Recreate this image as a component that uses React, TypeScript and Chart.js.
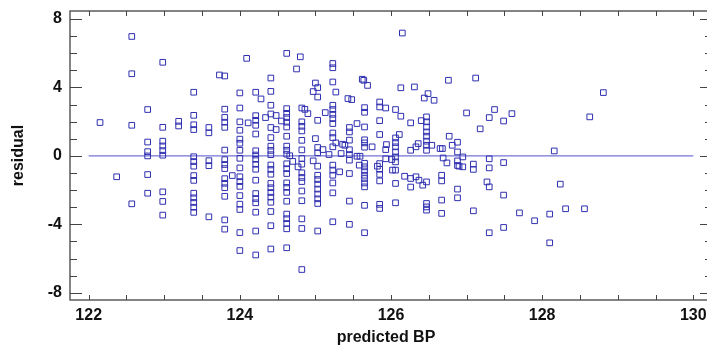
import { useEffect, useRef } from "react";
import { Chart, registerables } from "chart.js";

Chart.register(...registerables);

// predicted BP levels (x) and the residuals observed at each level (y)
const bpLevels: number[] = [
  122.15, 122.37, 122.57, 122.78, 122.98, 123.19, 123.39, 123.59, 123.73, 123.8,
  123.9, 124.0, 124.09, 124.11, 124.21, 124.28, 124.34, 124.41, 124.48, 124.55,
  124.62, 124.66, 124.7, 124.75, 124.77, 124.8, 124.82, 124.86, 124.9, 124.97,
  125.0, 125.03, 125.1, 125.13, 125.18, 125.23, 125.27, 125.32, 125.34, 125.36,
  125.39, 125.43, 125.45, 125.48, 125.55, 125.58, 125.59, 125.62, 125.64, 125.65,
  125.69, 125.75, 125.82, 125.85, 125.93, 125.94, 126.01, 126.02, 126.06, 126.11,
  126.13, 126.15, 126.18, 126.26, 126.31, 126.33, 126.36, 126.37, 126.4, 126.42,
  126.44, 126.47, 126.49, 126.54, 126.57, 126.65, 126.67, 126.68, 126.69, 126.74,
  126.76, 126.77, 126.81, 126.88, 126.9, 126.95, 127.0, 127.09, 127.12, 127.18,
  127.27, 127.3, 127.37, 127.49, 127.6, 127.7, 127.9, 128.1, 128.16, 128.24,
  128.31, 128.56, 128.63, 128.81,
];

const residualsAtLevel: number[][] = [
  [1.95], // 122.15
  [-1.22], // 122.37
  [6.98, 4.8, 1.79, -2.8], // 122.57
  [2.71, 0.81, 0.25, 0.0, -1.09, -2.18], // 122.78
  [5.47, 1.67, 0.86, 0.58, 0.31, 0.04, -2.1, -2.66, -3.46], // 122.98
  [2.02, 1.75], // 123.19
  [3.72, 2.37, 1.82, 1.54, -0.05, -0.33, -0.6, -1.15, -1.43, -2.18, -2.45, -2.72, -3.0, -3.3], // 123.39
  [1.66, 1.35, -0.28, -0.57, -3.56], // 123.59
  [4.73], // 123.73
  [4.67, 2.73, 2.25, 1.97, 1.67, 0.34, -0.22, -0.5, -0.74, -1.33, -1.6, -1.86, -2.36, -3.74, -4.28], // 123.80
  [-1.15], // 123.90
  [3.68, 2.8, 1.99, 1.5, 0.98, 0.74, 0.33, -0.14, -0.7, -1.22, -1.5, -1.78, -2.32, -2.82, -3.13, -4.48, -5.53], // 124.00
  [5.7], // 124.09
  [1.93], // 124.11
  [3.72, 2.35, 2.08, 1.79, 1.28, 0.3, 0.05, -0.2, -0.49, -0.78, -1.42, -2.2, -2.49, -2.74, -3.29, -4.39, -5.79], // 124.21
  [3.33], // 124.28
  [2.24], // 124.34
  [4.55, 3.77, 2.96, 2.45, 1.66, 1.07, 0.57, 0.32, 0.07, -0.53, -0.79, -1.07, -1.61, -1.86, -2.14, -2.41, -2.71, -3.25, -4.08, -5.44], // 124.41
  [2.36, 1.54], // 124.48
  [2.04], // 124.55
  [5.99, 2.76, 2.49, 2.24, 1.97, 1.69, 1.15, 0.57, 0.33, 0.1, -0.46, -0.75, -1.03, -1.58, -1.84, -2.13, -2.65, -3.4, -3.67, -3.95, -4.26, -5.37], // 124.62
  [0.01], // 124.66
  [-0.32], // 124.70
  [5.08], // 124.75
  [-0.64], // 124.77
  [5.79], // 124.80
  [2.8, 1.99, 1.73, 1.46, 0.91, 0.35, -0.15, -0.48, -0.99, -1.26, -1.5, -2.05, -2.62, -3.68, -4.24, -6.64], // 124.82
  [2.72], // 124.86
  [2.47], // 124.90
  [3.76, -0.29], // 124.97
  [4.26, 1.01], // 125.00
  [3.99, 3.44, 2.08, 0.49, 0.18, -0.6, -1.13, -1.38, -1.65, -1.94, -2.23, -2.51, -2.78, -4.39], // 125.03
  [0.37], // 125.10
  [2.53], // 125.13
  [0.08], // 125.18
  [5.4, 5.15, 4.32, 2.96, 2.71, 2.43, 2.18, 1.89, 1.34, 1.07, 0.53, -0.54, -0.83, -1.13, -1.58, -2.16, -3.85], // 125.23
  [3.73, 0.76], // 125.27
  [-0.93], // 125.32
  [0.14], // 125.34
  [0.68], // 125.36
  [0.62], // 125.39
  [3.35], // 125.43
  [1.66, 1.4, 0.92, 0.36, 0.08, -0.25, -1.03, -2.64, -4.0], // 125.45
  [3.29], // 125.48
  [1.89, -0.02], // 125.55
  [-0.54], // 125.58
  [-0.02], // 125.59
  [4.48], // 125.62
  [4.42], // 125.64
  [2.82, 2.55, 1.69, 0.94, 0.76, 0.51, -0.43, -0.64, -0.88, -1.13, -1.32, -1.58, -1.81, -2.89, -4.49], // 125.65
  [4.12], // 125.69
  [0.53], // 125.75
  [-0.6], // 125.82
  [3.15, 2.86, 2.06, 1.25, -0.45, -0.78, -1.08, -1.46, -2.83, -3.07], // 125.85
  [2.8, 0.37, -0.17], // 125.93
  [0.66], // 125.94
  [-0.21], // 126.01
  [-0.83], // 126.02
  [2.71, 1.05, 0.78, 0.53, 0.23, -0.06, -0.35, -0.83, -1.61, -2.74], // 126.06
  [1.25], // 126.11
  [3.98, 2.32], // 126.13
  [7.18], // 126.15
  [-1.19], // 126.18
  [1.93, 0.33, -1.32, -1.82], // 126.26
  [4.03], // 126.31
  [0.53, -1.22], // 126.33
  [0.72], // 126.36
  [-1.42], // 126.37
  [2.06], // 126.40
  [-1.71], // 126.42
  [3.38], // 126.44
  [2.28, 1.99, 1.69, 1.4, 1.15, 0.86, 0.62, 0.33, -1.52, -2.78, -2.98, -3.17], // 126.47
  [3.64], // 126.49
  [0.62], // 126.54
  [3.25], // 126.57
  [0.43], // 126.65
  [-1.13, -1.46, -2.58, -3.36], // 126.67
  [0.43], // 126.68
  [-0.12], // 126.69
  [-0.41], // 126.74
  [4.42], // 126.76
  [1.15], // 126.77
  [0.62], // 126.81
  [0.8, 0.23, -0.29, -0.56, -1.94, -2.45], // 126.88
  [-0.6], // 126.90
  [-0.06, -0.64], // 126.95
  [2.51], // 127.00
  [-0.48, -0.79, -3.21], // 127.09
  [4.55], // 127.12
  [1.58], // 127.18
  [-1.52], // 127.27
  [2.24, -0.17, -0.7, -1.81, -4.49], // 127.30
  [2.71], // 127.37
  [2.04, -0.39, -2.29, -4.18], // 127.49
  [2.47], // 127.60
  [-3.33], // 127.70
  [-3.79], // 127.90
  [-3.4, -5.08], // 128.10
  [0.29], // 128.16
  [-1.65], // 128.24
  [-3.09], // 128.31
  [-3.09], // 128.56
  [2.28], // 128.63
  [3.7], // 128.81
];

const xTickValues = [122, 124, 126, 128, 130];
const yTickValues = [-8, -4, 0, 4, 8];
const xMinorStep = 0.5;
const yMinorStep = 1;
const zeroLineX = [122, 130];
const xTitle = "predicted BP";
const yTitle = "residual";

// where the first/last labelled ticks sit in the picture (used to fit the axis ranges)
const X_FIRST_PX = 88.7;
const X_LAST_PX = 693.3;
const Y_TOP_PX = 19; // value 8
const Y_BOTTOM_PX = 292.8; // value -8
const FRAME_RIGHT_PX = 712; // right frame, just outside the window

const FONT = "'Liberation Sans', Arial, sans-serif";

export default function App() {
  const ref = useRef<HTMLCanvasElement>(null);

  useEffect(() => {
    document.body.style.margin = "0";
    const points: { x: number; y: number }[] = [];
    bpLevels.forEach((x, i) => {
      (residualsAtLevel[i] || []).forEach((y) => points.push({ x, y }));
    });

    const xLo = xTickValues[0];
    const xHi = xTickValues[xTickValues.length - 1];
    const yLo = yTickValues[0];
    const yHi = yTickValues[yTickValues.length - 1];
    const xPerUnit = (X_LAST_PX - X_FIRST_PX) / (xHi - xLo);
    const yPerUnit = (Y_BOTTOM_PX - Y_TOP_PX) / (yHi - yLo);

    const framePlugin = {
      id: "frame",
      beforeDatasetsDraw(chart: any) {
        const { ctx, chartArea, scales } = chart;
        const { left, top, bottom } = chartArea;
        const xs = scales.x;
        const ys = scales.y;
        const right = FRAME_RIGHT_PX;
        ctx.save();
        ctx.strokeStyle = "#5c5c5c";
        ctx.lineWidth = 1.5;
        ctx.beginPath();
        ctx.moveTo(left, top);
        ctx.lineTo(right, top);
        ctx.lineTo(right, bottom);
        ctx.lineTo(left, bottom);
        ctx.closePath();
        ctx.stroke();
        ctx.lineWidth = 1;
        ctx.strokeStyle = "#444";
        for (let v = xLo; v <= xHi + 1e-9; v += xMinorStep) {
          const px = Math.round(xs.getPixelForValue(v)) + 0.5;
          ctx.beginPath();
          ctx.moveTo(px, bottom);
          ctx.lineTo(px, bottom - 5);
          ctx.moveTo(px, top);
          ctx.lineTo(px, top + 5);
          ctx.stroke();
        }
        for (let v = yLo; v <= yHi + 1e-9; v += yMinorStep) {
          const py = Math.round(ys.getPixelForValue(v)) + 0.5;
          const len = yTickValues.includes(v) ? 12 : 7;
          ctx.beginPath();
          ctx.moveTo(left, py);
          ctx.lineTo(left + len, py);
          ctx.moveTo(right, py);
          ctx.lineTo(right - len, py);
          ctx.stroke();
        }
        ctx.restore();
      },
    };

    const tickFont = { family: FONT, size: 16, weight: "bold" as const };
    const zeroPad = (s: any) => {
      s.paddingLeft = 0;
      s.paddingRight = 0;
      s.paddingTop = 0;
      s.paddingBottom = 0;
    };

    const chart = new Chart(ref.current as HTMLCanvasElement, {
      type: "scatter",
      data: {
        datasets: [
          {
            data: points,
            pointStyle: "rect",
            pointRadius: 4,
            pointBorderWidth: 1,
            borderColor: "#2f2fb0",
            backgroundColor: "rgba(0,0,0,0)",
            order: 1,
          },
          {
            data: zeroLineX.map((x) => ({ x, y: 0 })),
            showLine: true,
            borderColor: "#7474d4",
            borderWidth: 1.3,
            pointRadius: 0,
            order: 2,
          } as any,
        ],
      },
      options: {
        responsive: false,
        maintainAspectRatio: false,
        animation: false,
        layout: { padding: { top: 11, right: 0, left: 0, bottom: 0 } },
        plugins: { legend: { display: false }, tooltip: { enabled: false } },
        scales: {
          x: {
            type: "linear",
            min: 121.753,
            max: 130.168,
            afterFit: (s: any) => {
              s.height = 45;
              zeroPad(s);
            },
            afterBuildTicks: (s: any) => {
              s.ticks = xTickValues.map((v) => ({ value: v }));
            },
            grid: { display: false, drawTicks: false },
            border: { display: false },
            ticks: {
              padding: 6,
              font: tickFont,
              color: "#111",
              maxRotation: 0,
              autoSkip: false,
              callback: (v: any) => String(v),
            },
            title: {
              display: true,
              text: xTitle,
              font: tickFont,
              color: "#111",
              padding: { top: 0, bottom: -2 },
            },
          },
          y: {
            type: "linear",
            min: -8.4,
            max: 8.47,
            afterFit: (s: any) => {
              s.width = 70;
              zeroPad(s);
            },
            afterBuildTicks: (s: any) => {
              s.ticks = yTickValues.map((v) => ({ value: v }));
            },
            grid: { display: false, drawTicks: false },
            border: { display: false },
            ticks: {
              padding: 8,
              font: tickFont,
              color: "#111",
              autoSkip: false,
              callback: (v: any) => String(v),
            },
            title: {
              display: true,
              text: yTitle,
              font: tickFont,
              color: "#111",
              padding: { top: 9, bottom: 0 },
            },
          },
        },
      },
      plugins: [framePlugin],
    });

    // fit the ranges to the real plot area so the labelled ticks land where they should
    const area = chart.chartArea;
    const xOpts: any = (chart.options.scales as any).x;
    const yOpts: any = (chart.options.scales as any).y;
    xOpts.min = xLo - (X_FIRST_PX - area.left) / xPerUnit;
    xOpts.max = xHi + (area.right - X_LAST_PX) / xPerUnit;
    yOpts.max = yHi + (Y_TOP_PX - area.top) / yPerUnit;
    yOpts.min = yLo - (area.bottom - Y_BOTTOM_PX) / yPerUnit;
    chart.update("none");

    return () => chart.destroy();
  }, []);

  return (
    <div
      style={{
        position: "fixed",
        left: 0,
        top: 0,
        width: 707,
        height: 345,
        overflow: "hidden",
        background: "#fff",
      }}
    >
      <canvas ref={ref} width={707} height={345} style={{ display: "block" }} />
    </div>
  );
}
